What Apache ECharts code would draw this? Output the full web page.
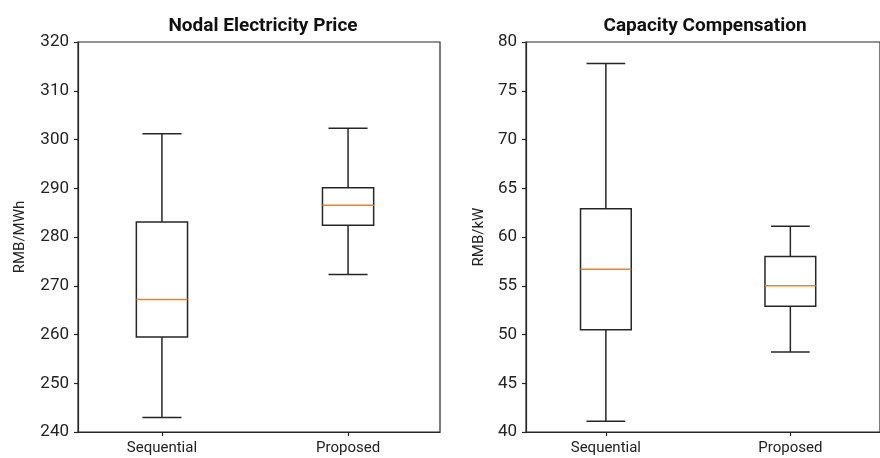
<!DOCTYPE html>
<html>
<head>
<meta charset="utf-8">
<script src="https://cdn.jsdelivr.net/npm/echarts@6/dist/echarts.min.js"></script>
<style>html,body{margin:0;padding:0;background:#fff}#c{width:880px;height:458px}</style>
</head>
<body>
<div id="c"></div>
<script>
const categories = ['Sequential', 'Proposed'];
// [low whisker, Q1, median, Q3, high whisker]
const priceSequential = [243.0, 259.5, 267.2, 283.1, 301.2];
const priceProposed   = [272.3, 282.4, 286.5, 290.1, 302.3];
const capSequential   = [41.1, 50.5, 56.7, 62.9, 77.8];
const capProposed     = [48.2, 52.9, 55.0, 58.0, 61.1];
const priceTicks = [240, 320, 10];
const capTicks = [40, 80, 5];

const FONT = 'Roboto';
const LINE = '#262626';
const MED = '#ff7f0e';
const BOXW = 0.275, CAPW = 0.105;

function renderBox(params, api) {
  const x = api.value(0);
  const lo = api.value(1), q1 = api.value(2), md = api.value(3), q3 = api.value(4), hi = api.value(5);
  const P = (xx, yy) => api.coord([xx, yy]);
  const ls = {stroke: LINE, lineWidth: 1.5, fill: null};
  const a = P(x - BOXW/2, q3), b = P(x + BOXW/2, q1);
  const el = [];
  el.push({type:'rect', shape:{x:a[0], y:a[1], width:b[0]-a[0], height:b[1]-a[1]}, style:{stroke:LINE, lineWidth:1.5, fill:'none'}});
  const line = (p1, p2, st) => ({type:'line', shape:{x1:p1[0], y1:p1[1], x2:p2[0], y2:p2[1]}, style: st});
  el.push(line(P(x, q3), P(x, hi), ls));
  el.push(line(P(x, q1), P(x, lo), ls));
  el.push(line(P(x - CAPW, hi), P(x + CAPW, hi), ls));
  el.push(line(P(x - CAPW, lo), P(x + CAPW, lo), ls));
  el.push(line(P(x - BOXW/2, md), P(x + BOXW/2, md), {stroke: MED, lineWidth: 1.5}));
  return {type:'group', children: el};
}

function xAxisDef(gi, min, max) {
  return {
    type: 'value', gridIndex: gi, min: min, max: max,
    splitLine: {show: false},
    axisLine: {show: true, onZero: false, lineStyle: {color: LINE, width: 1.2}},
    axisTick: {show: true, length: 4, customValues: [1, 2], lineStyle: {color: LINE, width: 1.2}},
    axisLabel: {customValues: [1, 2], margin: 9, color: '#222', fontFamily: FONT, fontSize: 15,
      formatter: v => categories[Math.round(v) - 1] || ''}
  };
}
function yAxisDef(gi, t, name, gap) {
  return {
    type: 'value', gridIndex: gi, min: t[0], max: t[1], interval: t[2],
    name: name, nameLocation: 'middle', nameGap: gap,
    nameTextStyle: {color: '#222', fontFamily: FONT, fontSize: 15},
    splitLine: {show: false},
    axisLine: {show: true, lineStyle: {color: LINE, width: 1.2}},
    axisTick: {show: true, length: 4, lineStyle: {color: LINE, width: 1.2}},
    axisLabel: {margin: 9, color: '#222', fontFamily: FONT, fontSize: 17}
  };
}

const chart = echarts.init(document.getElementById('c'), null, {renderer: 'canvas'});
chart.setOption({
  backgroundColor: '#fff',
  animation: false,
  title: [
    {text: 'Nodal Electricity Price', left: 258, top: 12, textAlign: 'center',
     textStyle: {fontFamily: FONT, fontWeight: 'bold', fontSize: 19, color: '#111'}},
    {text: 'Capacity Compensation', left: 700, top: 12, textAlign: 'center',
     textStyle: {fontFamily: FONT, fontWeight: 'bold', fontSize: 19, color: '#111'}}
  ],
  grid: [
    {left: 78, top: 42, width: 362, height: 390, show: true, borderColor: LINE, borderWidth: 1.2, backgroundColor: 'transparent'},
    {left: 526, top: 42, width: 362, height: 390, show: true, borderColor: LINE, borderWidth: 1.2, backgroundColor: 'transparent'}
  ],
  xAxis: [xAxisDef(0, 0.549, 2.494), xAxisDef(1, 0.567, 2.486)],
  yAxis: [yAxisDef(0, priceTicks, 'RMB/MWh', 50), yAxisDef(1, capTicks, 'RMB/kW', 39)],
  series: [
    {type: 'custom', xAxisIndex: 0, yAxisIndex: 0, renderItem: renderBox,
     data: [[1].concat(priceSequential), [2].concat(priceProposed)]},
    {type: 'custom', xAxisIndex: 1, yAxisIndex: 1, renderItem: renderBox,
     data: [[1].concat(capSequential), [2].concat(capProposed)]}
  ]
});
</script>
</body>
</html>
